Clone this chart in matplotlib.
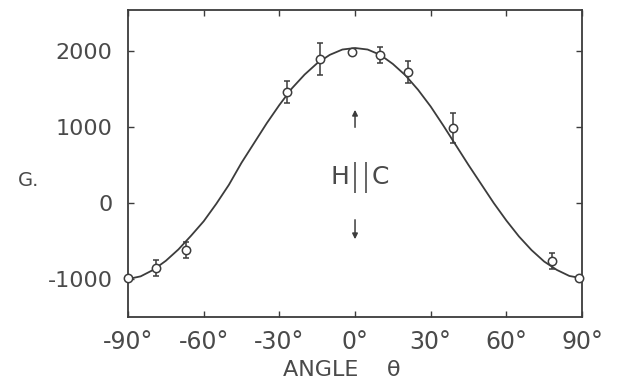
import numpy as np
import matplotlib
matplotlib.use('Agg')
import matplotlib.pyplot as plt

# ── Data ──────────────────────────────────────────────────────────────────────
# measured points (angle in degrees, field in gauss, error bar half-height)
pt_angle = [-90, -79, -67, -27, -14, -1, 10, 21, 39, 78, 89]
pt_field = [-990, -855, -620, 1460, 1890, 1990, 1945, 1720, 985, -765, -985]
pt_err   = [0, 105, 105, 150, 210, 0, 105, 145, 200, 105, 0]

# smooth theoretical curve, read every 5 degrees
curve_angle = [-90, -85, -80, -75, -70, -65, -60, -55, -50, -45, -40, -35, -30,
               -25, -20, -15, -10, -5, 0, 5, 10, 15, 20, 25, 30, 35, 40, 45,
               50, 55, 60, 65, 70, 75, 80, 85, 90]
curve_field = [-1000, -965, -880, -760, -610, -430, -240, -10, 240, 530, 790,
               1050, 1290, 1510, 1690, 1840, 1950, 2020, 2040, 2020, 1950,
               1830, 1680, 1490, 1270, 1020, 760, 500, 250, 0, -230, -440,
               -620, -770, -880, -960, -990]

x_ticks = [-90, -60, -30, 0, 30, 60, 90]
x_labels = ['-90°', '-60°', '-30°', '0°', '30°', '60°', '90°']
y_ticks = [-1000, 0, 1000, 2000]
y_labels = ['-1000', '0', '1000', '2000']

INK = '#3c3c3c'
TXT = '#4a4a4a'
plt.rcParams['font.family'] = ['DejaVu Sans']

fig = plt.figure(figsize=(6.17, 3.85), dpi=100)
ax = fig.add_axes([0.2075, 0.1766, 0.7358, 0.7974])

ax.plot(curve_angle, curve_field, color=INK, lw=1.3, zorder=2)

# error bars (skip zero-length ones so no cap is drawn)
ea = [a for a, e in zip(pt_angle, pt_err) if e > 0]
ef = [f for f, e in zip(pt_field, pt_err) if e > 0]
ee = [e for e in pt_err if e > 0]
ax.errorbar(ea, ef, yerr=ee, fmt='none', ecolor=INK, elinewidth=1.1,
            capsize=2.5, capthick=1.1, zorder=3)
ax.plot(pt_angle, pt_field, 'o', ms=6, mfc='white', mec=INK, mew=1.1,
        zorder=4, clip_on=False)

ax.set_xlim(-90, 90)
ax.set_ylim(-1500, 2540)
ax.set_xticks(x_ticks)
ax.set_xticklabels(x_labels)
ax.set_yticks(y_ticks)
ax.set_yticklabels(y_labels)
ax.tick_params(direction='in', length=4, width=1.0, color=INK,
               top=True, right=True, labelcolor=TXT)
ax.tick_params(axis='y', labelsize=16, pad=11)
ax.tick_params(axis='x', labelsize=17, pad=9)
for s in ax.spines.values():
    s.set_color(INK)
    s.set_linewidth(1.3)

fig.text(342 / 617, 0.024, 'ANGLE    θ', fontsize=16, color=TXT,
         ha='center', va='baseline')
fig.text(0.029, 0.53, 'G.', fontsize=14, color=TXT, ha='left', va='center')

# H || C label with arrows
ax.text(-5.9, 342, 'H', fontsize=18, color=TXT, ha='center', va='center')
ax.vlines([0.0, 4.4], 132, 540, color=INK, lw=1.1)
ax.text(9.9, 342, 'C', fontsize=18, color=TXT, ha='center', va='center')
ax.annotate('', xy=(0.0, 1263), xytext=(0.0, 960),
            arrowprops=dict(arrowstyle='-|>', color=INK, lw=1.1,
                            mutation_scale=8))
ax.annotate('', xy=(0.0, -513), xytext=(0.0, -184),
            arrowprops=dict(arrowstyle='-|>', color=INK, lw=1.1,
                            mutation_scale=8))

fig.savefig('out.png', dpi=100, facecolor='white')
